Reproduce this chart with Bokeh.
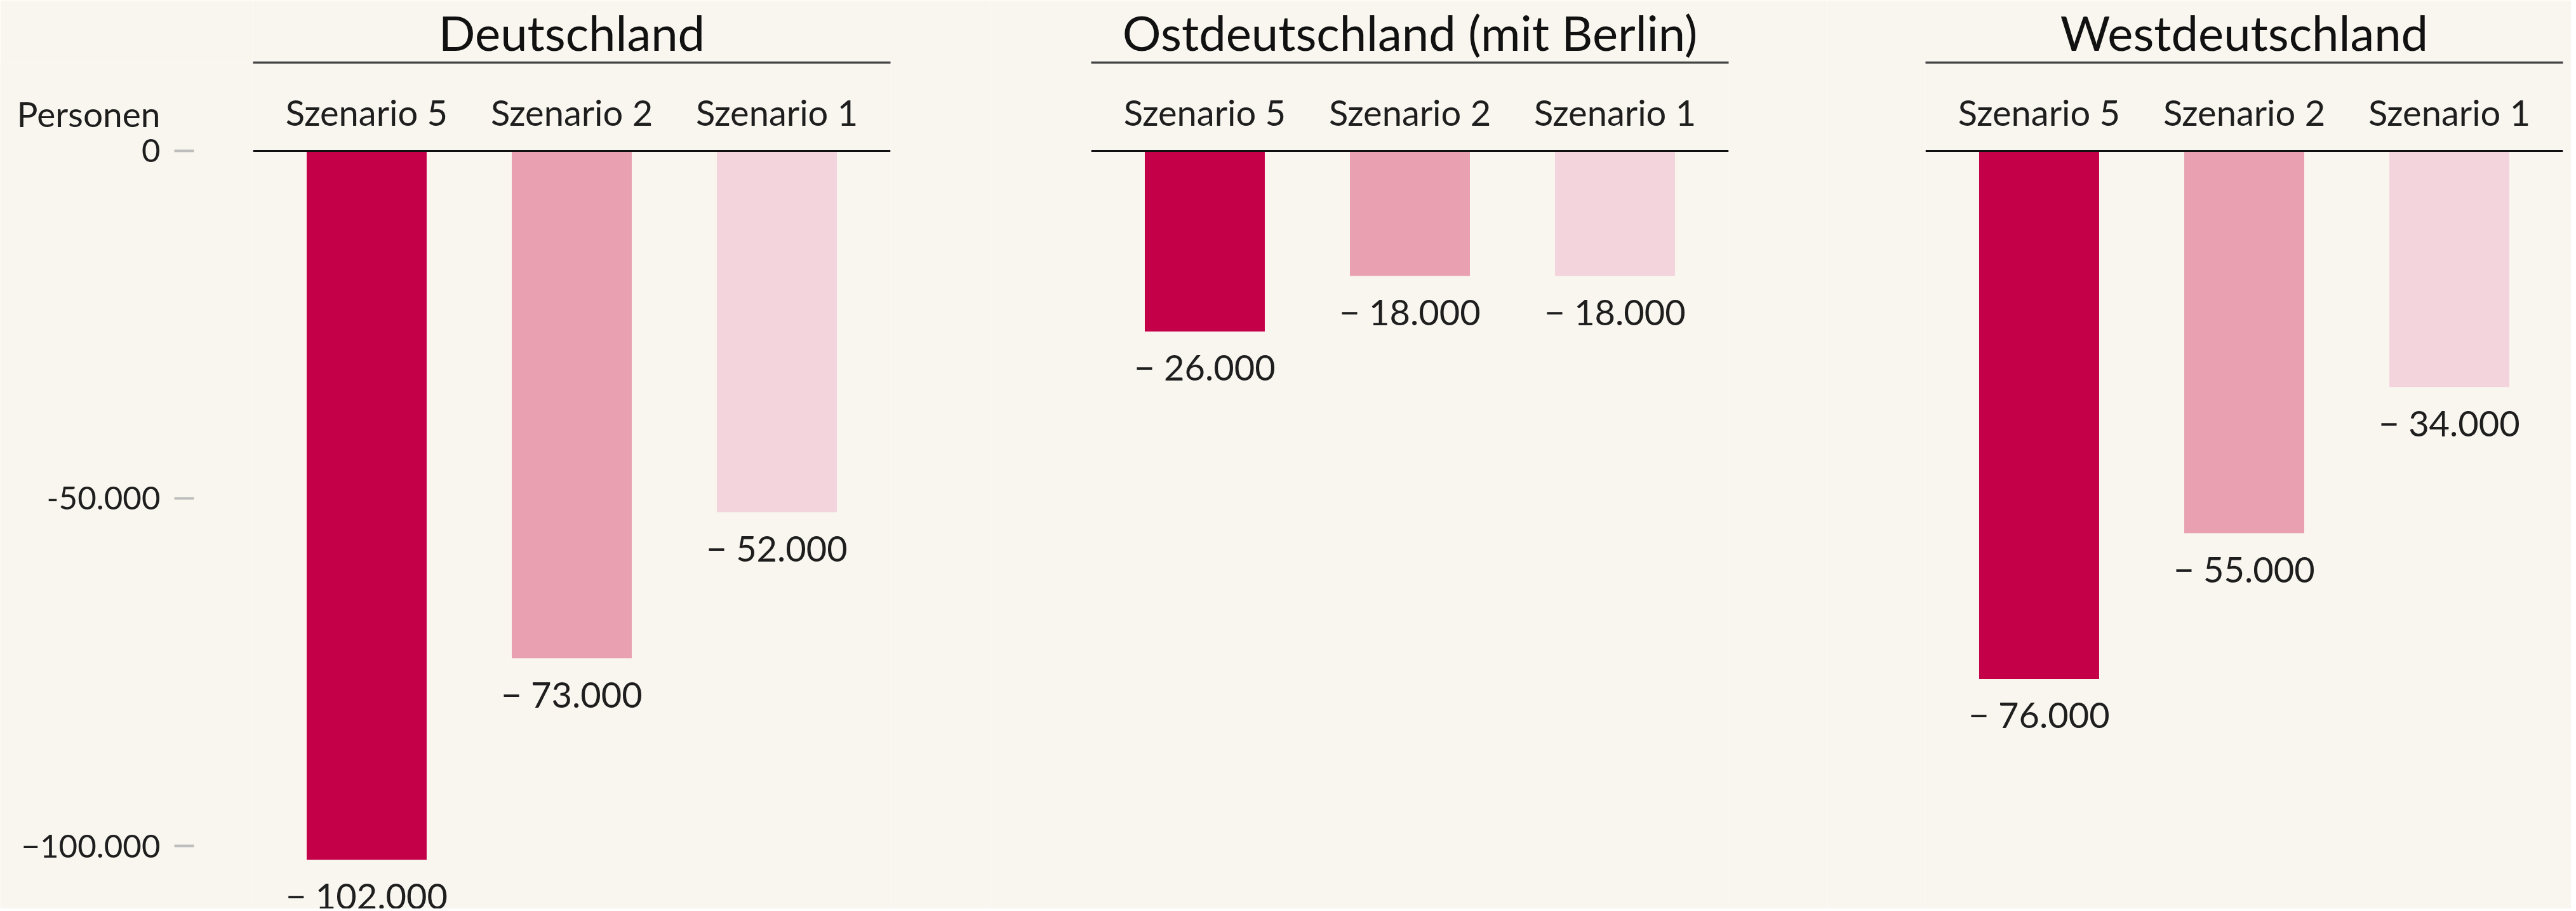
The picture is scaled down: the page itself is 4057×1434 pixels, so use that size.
from bokeh.plotting import figure
from bokeh.models import (FactorRange, Range1d, LinearAxis, FixedTicker,
                          ColumnDataSource)
from bokeh.layouts import row
from bokeh.embed import file_html
from bokeh.resources import INLINE
from bokeh.core.properties import value

# ---------------- data ----------------
regions = ["Deutschland", "Ostdeutschland (mit Berlin)", "Westdeutschland"]
scenarios = ["Szenario 5", "Szenario 2", "Szenario 1"]
values_deutschland = [-102000, -73000, -52000]
values_ost = [-26000, -18000, -18000]
values_west = [-76000, -55000, -34000]
bar_colors = ["#C30048", "#E9A1B1", "#F3D3DC"]
y_ticks = [0, -50000, -100000]
y_tick_labels = ["0", "-50.000", "\u2212100.000"]
y_title = "Personen"

# ---------------- style ----------------
BG = "#F9F6EF"
FONT = "Lato"
TXT = "#1E1E1E"
H = 1430
FRAME_TOP = 98        # header rule of the region panels
FRAME_W = 1004
Y_MIN = -109030
Y_MAX = 12670
AXIS_W = 398          # width of the value-axis strip
AXIS_X = 396          # where the value axis sits inside that strip
borders = [(0, 158), (158, 155), (155, 13)]


def fmt(v):
    return "\u2212 " + f"{abs(v):,}".replace(",", ".")


def base_style(p):
    p.grid.visible = False
    p.background_fill_color = BG
    p.border_fill_color = BG
    p.outline_line_color = None


# ---- strip carrying the value axis and its "Personen" caption ----
p0 = figure(width=AXIS_W, height=H, x_range=Range1d(0, AXIS_W),
            y_range=Range1d(Y_MIN, Y_MAX),
            output_backend="svg", toolbar_location=None,
            min_border_left=0, min_border_right=0,
            min_border_top=FRAME_TOP, min_border_bottom=0)
base_style(p0)
p0.xaxis.visible = False
ya = p0.yaxis[0]
ya.fixed_location = AXIS_X
ya.ticker = FixedTicker(ticks=y_ticks)
ya.major_label_overrides = dict(zip(y_ticks, y_tick_labels))
ya.axis_line_color = None
ya.minor_tick_line_color = None
ya.major_tick_line_color = "#BDBDBD"
ya.major_tick_line_width = 4
ya.major_tick_in = -91
ya.major_tick_out = 122
ya.major_label_standoff = 22
ya.major_label_text_font = FONT
ya.major_label_text_font_size = "51px"
ya.major_label_text_color = TXT
p0.text(x=[AXIS_X], y=[0], text=[y_title], x_offset=-144, y_offset=-58,
        text_align="right", text_baseline="middle", text_font=value(FONT),
        text_font_size="55px", text_color=TXT)

figs = [p0]
series = [values_deutschland, values_ost, values_west]
for i, (region, vals) in enumerate(zip(regions, series)):
    lb, rb = borders[i]
    p = figure(
        width=lb + FRAME_W + rb, height=H,
        x_range=FactorRange(*scenarios, range_padding=0.036),
        y_range=Range1d(Y_MIN, Y_MAX),
        x_axis_location="above",
        output_backend="svg", toolbar_location=None,
        min_border_left=lb, min_border_right=rb,
        min_border_top=FRAME_TOP, min_border_bottom=0,
    )
    base_style(p)
    p.yaxis.visible = False

    src = ColumnDataSource(dict(
        x=scenarios, top=vals, color=bar_colors,
        label=[fmt(v) for v in vals],
    ))
    p.vbar(x="x", top="top", bottom=0, width=0.585, fill_color="color",
           line_color=None, source=src)
    p.text(x="x", y="top", text="label", source=src, text_align="center",
           text_baseline="middle", y_offset=56, text_font=value(FONT),
           text_font_size="56px", text_color=TXT)

    # category axis pinned at y = 0: zero line + scenario labels above it
    ax = p.xaxis[0]
    ax.fixed_location = 0
    ax.axis_line_color = "#111111"
    ax.axis_line_width = 3
    ax.major_tick_line_color = None
    ax.major_tick_in = 0
    ax.major_tick_out = 0
    ax.major_label_standoff = 27
    ax.major_label_text_font = FONT
    ax.major_label_text_font_size = "56px"
    ax.major_label_text_color = TXT

    # header rule beneath the region title (line only)
    hdr = LinearAxis(ticker=FixedTicker(ticks=[]),
                     axis_line_color="#444444", axis_line_width=3.5,
                     major_tick_line_color=None, minor_tick_line_color=None,
                     major_tick_in=0, major_tick_out=0, major_label_standoff=0)
    p.add_layout(hdr, "above")

    p.title.text = region
    p.title.align = "center"
    p.title.text_font = FONT
    p.title.text_font_size = "76px"
    p.title.text_font_style = "normal"
    p.title.text_color = "#111111"
    p.title.standoff = 5
    figs.append(p)

layout = row(*figs, spacing=0)
html = file_html(layout, INLINE, title="Bevölkerung Szenarien")
html = html.replace("<body>", '<body style="background-color:%s">' % BG, 1)
open("out.html", "w").write(html)
